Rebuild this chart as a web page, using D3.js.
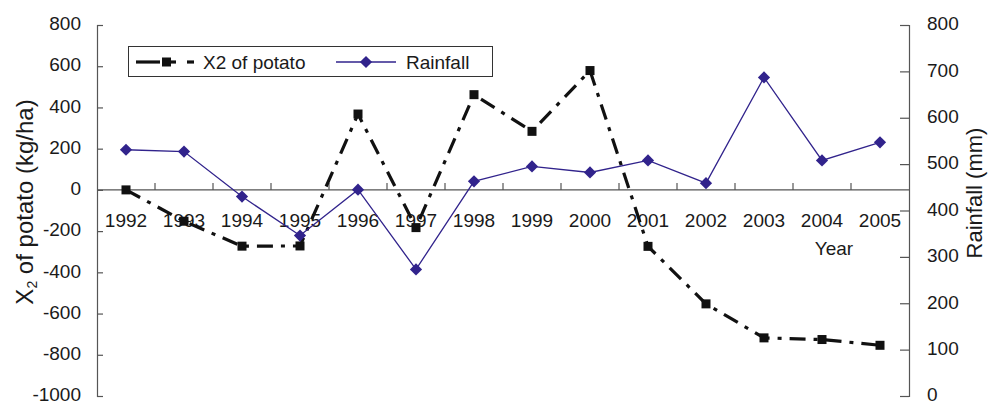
<!DOCTYPE html>
<html>
<head>
<meta charset="utf-8">
<script src="https://cdn.jsdelivr.net/npm/d3@7/dist/d3.min.js"></script>
<style>
  html, body { margin: 0; padding: 0; background: #fff; }
  svg { display: block; font-family: "Liberation Sans", Arial, Helvetica, sans-serif; }
</style>
</head>
<body>
<svg id="chart" width="995" height="405"></svg>
<script>
// Years on the category axis
const years = ["1992","1993","1994","1995","1996","1997","1998","1999","2000","2001","2002","2003","2004","2005"];
// X2 of potato (kg/ha), left axis
const potatoX2 = [0, -152, -273, -272, 368, -183, 462, 284, 579, -274, -553, -718, -726, -754];
// Rainfall (mm), right axis
const rainfall = [531, 527, 430, 346, 445, 273, 463, 495, 482, 508, 459, 687, 508, 547];
// Tick values
const leftTicks = [800, 600, 400, 200, 0, -200, -400, -600, -800, -1000];
const rightTicks = [800, 700, 600, 500, 400, 300, 200, 100, 0];

const svg = d3.select("#chart");
const plot = { left: 97, right: 909, top: 25, bottom: 396 };
const axisColor = "#555";
const textColor = "#1a1a1a";
const rainColor = "#31238c";
const tickFont = 19;

const x = d3.scaleBand().domain(years).range([plot.left, plot.right]).paddingInner(0).paddingOuter(0);
const yL = d3.scaleLinear().domain([-1000, 800]).range([plot.bottom, plot.top]);
const yR = d3.scaleLinear().domain([0, 800]).range([plot.bottom, plot.top]);
const cx = d => x(d) + x.bandwidth() / 2;
const plain = d => String(d);

// Left axis
const gL = svg.append("g").attr("transform", `translate(${plot.left},0)`)
  .call(d3.axisLeft(yL).tickValues(leftTicks).tickSize(-6).tickPadding(16).tickFormat(plain));
gL.select(".domain").attr("stroke", axisColor).attr("stroke-width", 1.2);
gL.selectAll(".tick line").attr("stroke", axisColor).attr("stroke-width", 1.2);
gL.selectAll(".tick text").attr("font-size", tickFont).attr("fill", textColor).attr("dy", "0.25em")
  .attr("font-family", "Liberation Sans, Arial, sans-serif");

// Right axis
const gR = svg.append("g").attr("transform", `translate(${plot.right},0)`)
  .call(d3.axisRight(yR).tickValues(rightTicks).tickSize(-9).tickPadding(18).tickFormat(plain));
gR.select(".domain").attr("stroke", axisColor).attr("stroke-width", 1.2);
gR.selectAll(".tick line").attr("stroke", axisColor).attr("stroke-width", 1.2);
gR.selectAll(".tick text").attr("font-size", tickFont).attr("fill", textColor).attr("dy", "0.25em")
  .attr("font-family", "Liberation Sans, Arial, sans-serif");

// Category axis along the zero line of the left scale
const y0 = yL(0);
const gX = svg.append("g").attr("transform", `translate(0,${y0})`);
gX.append("line").attr("x1", plot.left).attr("x2", plot.right).attr("y1", 0).attr("y2", 0)
  .attr("stroke", axisColor).attr("stroke-width", 1.2);
gX.selectAll("line.tk").data(years.slice(1)).join("line").attr("class", "tk")
  .attr("x1", d => x(d)).attr("x2", d => x(d)).attr("y1", 0).attr("y2", -7)
  .attr("stroke", axisColor).attr("stroke-width", 1.2);
gX.selectAll("text").data(years).join("text")
  .attr("x", d => cx(d)).attr("y", 37).attr("text-anchor", "middle")
  .attr("font-size", tickFont).attr("fill", textColor).text(d => d);

// Axis titles
svg.append("text").attr("x", 834).attr("y", 255).attr("text-anchor", "middle")
  .attr("font-size", tickFont).attr("fill", textColor).text("Year");

const tl = svg.append("text").attr("transform", "translate(33,202) rotate(-90)")
  .attr("text-anchor", "middle").attr("font-size", 24).attr("fill", textColor);
tl.append("tspan").text("X");
tl.append("tspan").attr("font-size", 14).attr("dy", 4).text("2");
tl.append("tspan").attr("dy", -4).text(" of potato (kg/ha)");

svg.append("text").attr("transform", "translate(982,193) rotate(-90)")
  .attr("text-anchor", "middle").attr("font-size", 22).attr("fill", textColor).text("Rainfall (mm)");

// X2 of potato series
const potLine = d3.line().x((d, i) => cx(years[i])).y(d => yL(d));
svg.append("path").datum(potatoX2).attr("d", potLine)
  .attr("fill", "none").attr("stroke", "#111").attr("stroke-width", 3.2)
  .attr("stroke-dasharray", "16,8,4,8");
svg.selectAll("rect.pt").data(potatoX2).join("rect").attr("class", "pt")
  .attr("x", (d, i) => cx(years[i]) - 4.5).attr("y", d => yL(d) - 4.5)
  .attr("width", 9).attr("height", 9).attr("fill", "#111");

// Rainfall series
const rainLine = d3.line().x((d, i) => cx(years[i])).y(d => yR(d));
svg.append("path").datum(rainfall).attr("d", rainLine)
  .attr("fill", "none").attr("stroke", rainColor).attr("stroke-width", 1.3);
const diamond = d3.symbol().type(d3.symbolDiamond2).size(95);
svg.selectAll("path.rn").data(rainfall).join("path").attr("class", "rn")
  .attr("d", diamond).attr("transform", (d, i) => `translate(${cx(years[i])},${yR(d)})`)
  .attr("fill", rainColor);

// Legend
const lg = svg.append("g");
lg.append("rect").attr("x", 128.5).attr("y", 46.5).attr("width", 364).attr("height", 30)
  .attr("fill", "#fff").attr("stroke", "#333").attr("stroke-width", 1);
lg.append("line").attr("x1", 136).attr("x2", 160).attr("y1", 62).attr("y2", 62)
  .attr("stroke", "#111").attr("stroke-width", 3.2);
lg.append("rect").attr("x", 162).attr("y", 57.5).attr("width", 9).attr("height", 9).attr("fill", "#111");
lg.append("line").attr("x1", 171).attr("x2", 176).attr("y1", 62).attr("y2", 62)
  .attr("stroke", "#111").attr("stroke-width", 3.2);
lg.append("line").attr("x1", 187).attr("x2", 194).attr("y1", 62).attr("y2", 62)
  .attr("stroke", "#111").attr("stroke-width", 3.2);
lg.append("text").attr("x", 203).attr("y", 68.5).attr("font-size", tickFont).attr("fill", textColor).text("X2 of potato");
lg.append("line").attr("x1", 336).attr("x2", 396).attr("y1", 62).attr("y2", 62)
  .attr("stroke", rainColor).attr("stroke-width", 1.3);
lg.append("path").attr("d", diamond).attr("transform", "translate(366,62)").attr("fill", rainColor);
lg.append("text").attr("x", 406).attr("y", 68.5).attr("font-size", tickFont).attr("fill", textColor).text("Rainfall");
</script>
</body>
</html>
